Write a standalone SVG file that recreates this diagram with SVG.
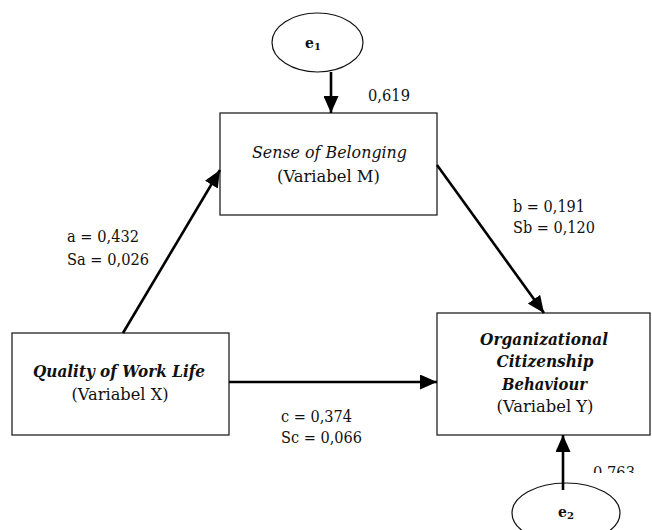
<svg xmlns="http://www.w3.org/2000/svg" width="652" height="530" viewBox="0 0 652 530">
<defs>
<style>
.box{fill:#fff;stroke:#222;stroke-width:1.3}
.ell{fill:#fff;stroke:#111;stroke-width:1.2}
.t{font-size:17px;fill:#111;text-anchor:middle}
.ti{font-style:italic}
.tb{font-style:italic;font-weight:bold}
.lbl{font-size:17px;fill:#111}
.e{font-size:14px;font-weight:bold;fill:#111;text-anchor:middle}
.arr{stroke:#000;stroke-width:2.6;fill:none;marker-end:url(#ah)}
</style>
<marker id="ah" markerUnits="userSpaceOnUse" markerWidth="17" markerHeight="15" refX="17" refY="7.5" orient="auto">
<path d="M0,0 L17,7.5 L0,15 z" fill="#000"/>
</marker>
<clipPath id="clip763"><rect x="580" y="440" width="72" height="33"/></clipPath>
</defs>
<rect width="652" height="530" fill="#fff"/>
<g font-family="DejaVu Serif, serif">
<g id="e1">
<ellipse class="ell" cx="317.5" cy="42.5" rx="45.5" ry="29.5"/>
<text class="e" x="313" y="48">e<tspan font-size="10" dy="2">1</tspan></text>
</g>
<g id="e2">
<ellipse class="ell" cx="566" cy="513" rx="54" ry="30"/>
<text class="e" x="566" y="517">e<tspan font-size="10" dy="2">2</tspan></text>
</g>
<g id="nodeM">
<rect class="box" x="220" y="113" width="217" height="102"/>
<text class="t ti" x="329.5" y="158" textLength="155" lengthAdjust="spacingAndGlyphs">Sense of Belonging</text>
<text class="t" x="328.5" y="182" textLength="103" lengthAdjust="spacingAndGlyphs">(Variabel M)</text>
</g>
<g id="nodeX">
<rect class="box" x="12" y="333" width="217" height="102"/>
<text class="t tb" x="119" y="377" textLength="172" lengthAdjust="spacingAndGlyphs">Quality of Work Life</text>
<text class="t" x="120" y="400" textLength="97" lengthAdjust="spacingAndGlyphs">(Variabel X)</text>
</g>
<g id="nodeY">
<rect class="box" x="437" y="313" width="213" height="122"/>
<text class="t tb" x="544" y="345" textLength="128" lengthAdjust="spacingAndGlyphs">Organizational</text>
<text class="t tb" x="545" y="367" textLength="97" lengthAdjust="spacingAndGlyphs">Citizenship</text>
<text class="t tb" x="544.5" y="390" textLength="85" lengthAdjust="spacingAndGlyphs">Behaviour</text>
<text class="t" x="545" y="412" textLength="97" lengthAdjust="spacingAndGlyphs">(Variabel Y)</text>
</g>
<g id="connectors">
<line class="arr" x1="331" y1="72" x2="331" y2="113"/>
<line class="arr" x1="123" y1="333" x2="220" y2="170"/>
<line class="arr" x1="437" y1="165" x2="544" y2="313"/>
<line class="arr" x1="229" y1="382" x2="437" y2="382"/>
<line class="arr" x1="563" y1="490" x2="563" y2="435"/>
</g>
<g id="labels">
<text class="lbl" x="368" y="101" textLength="42" lengthAdjust="spacingAndGlyphs">0,619</text>
<text class="lbl" x="67" y="242" textLength="72" lengthAdjust="spacingAndGlyphs">a = 0,432</text>
<text class="lbl" x="67" y="265" textLength="82" lengthAdjust="spacingAndGlyphs">Sa = 0,026</text>
<text class="lbl" x="513" y="212" textLength="72" lengthAdjust="spacingAndGlyphs">b = 0,191</text>
<text class="lbl" x="513" y="233" textLength="82" lengthAdjust="spacingAndGlyphs">Sb = 0,120</text>
<text class="lbl" x="281" y="422" textLength="71" lengthAdjust="spacingAndGlyphs">c = 0,374</text>
<text class="lbl" x="281" y="443" textLength="81" lengthAdjust="spacingAndGlyphs">Sc = 0,066</text>
<text class="lbl" x="593" y="478" textLength="42" lengthAdjust="spacingAndGlyphs" clip-path="url(#clip763)">0,763</text>
</g>
</g>
</svg>
